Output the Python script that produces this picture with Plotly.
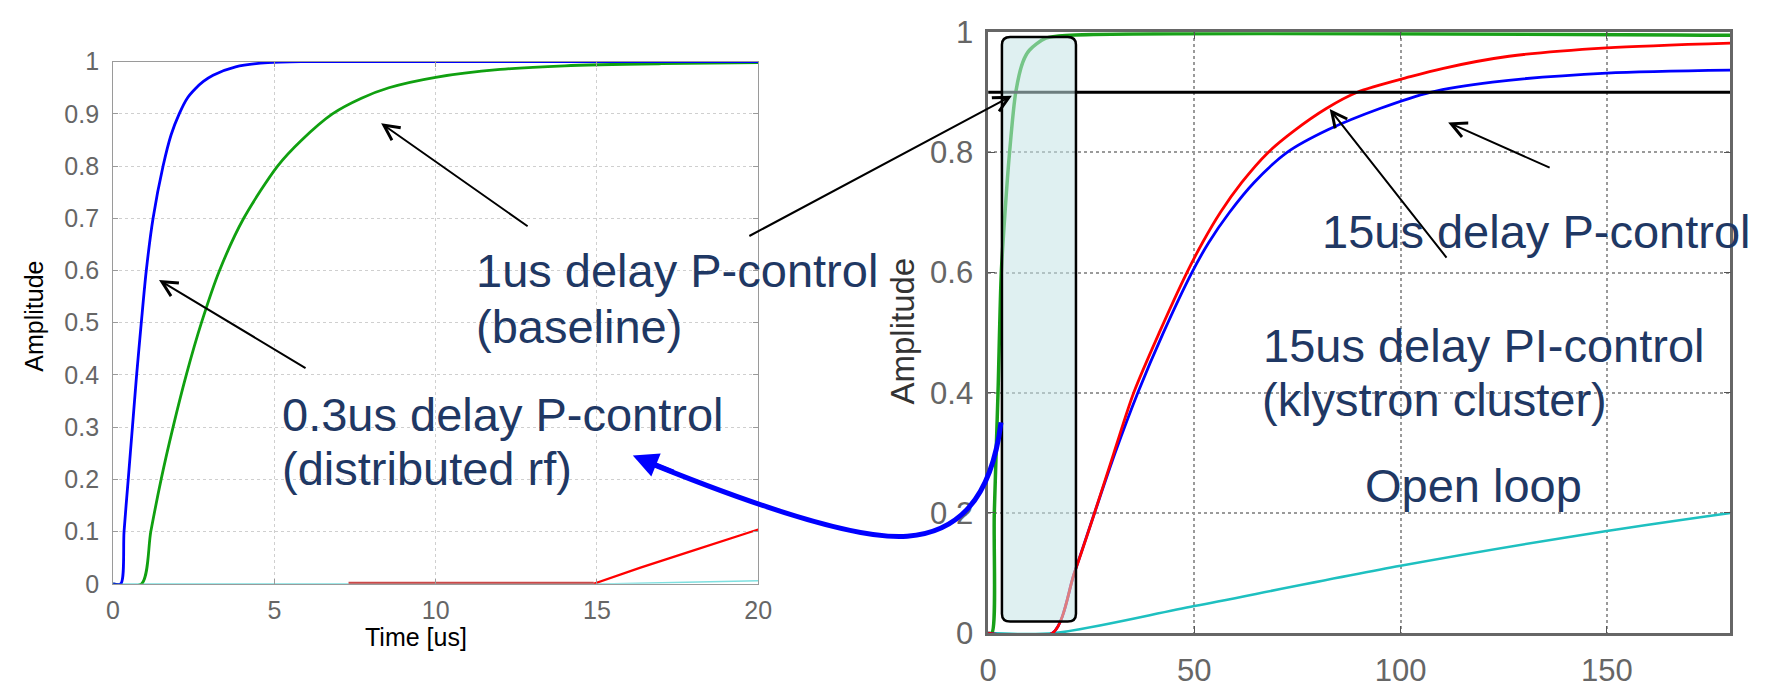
import plotly.graph_objects as go

FIG_W, FIG_H = 1778, 691

# ---------------- data: left panel (first 20 us) ----------------
left_blue_t = [0, 0.24, 0.34, 0.47, 0.6, 0.73, 0.875, 1.03, 1.24, 1.55, 1.8, 2.05, 2.3, 2.55, 2.8, 3.1, 3.8, 4.8, 6, 10, 15, 20]
left_blue_y = [0, 0, 0.1, 0.2, 0.3, 0.4, 0.5, 0.6, 0.7, 0.8, 0.86, 0.9, 0.93, 0.948, 0.962, 0.974, 0.99, 0.998, 1.0, 1.0, 1.0, 1.0]

left_green_t = [0, 0.885, 1.17, 1.49, 1.86, 2.27, 2.74, 3.3, 4.05, 5.1, 5.85, 6.8, 7.7, 8.55, 10, 12, 14, 17, 20]
left_green_y = [0, 0, 0.1, 0.2, 0.3, 0.4, 0.5, 0.6, 0.7, 0.8, 0.85, 0.9, 0.93, 0.95, 0.97, 0.985, 0.992, 0.996, 0.998]

left_red_t = [14.9, 16.35, 18, 20]
left_red_y = [0, 0.031, 0.064, 0.104]

left_red_hold_t = [7.3, 14.9]
left_red_hold_y = [0, 0]

left_cyan_t = [0, 15.5, 20]
left_cyan_y = [0, 0, 0.006]

left_xticks = [0, 5, 10, 15, 20]
left_xticktext = ["0", "5", "10", "15", "20"]
left_yticks = [0, 0.1, 0.2, 0.3, 0.4, 0.5, 0.6, 0.7, 0.8, 0.9, 1.0]
left_yticktext = ["0", "0.1", "0.2", "0.3", "0.4", "0.5", "0.6", "0.7", "0.8", "0.9", "1"]

# ---------------- data: right panel (0-180 us) ----------------
right_green_t = [0, 0.9, 1.5, 2.4, 3.2, 4.1, 5.2, 6.7, 8.4, 10, 14, 20, 180]
right_green_y = [0, 0, 0.2, 0.4, 0.6, 0.7, 0.8, 0.9, 0.95, 0.97, 0.99, 0.995, 0.995]

right_red_t = [0, 15.6, 20.9, 25.8, 30.5, 35.3, 41.5, 48.2, 52, 56.3, 61.5, 67.9, 74, 82, 89.5, 102.4, 110.4, 126.3, 150, 180]
right_red_y = [0, 0, 0.1, 0.2, 0.3, 0.4, 0.5, 0.6, 0.65, 0.7, 0.75, 0.8, 0.835, 0.873, 0.9, 0.926, 0.94, 0.96, 0.974, 0.982]

right_blue_t = [0, 15.6, 20.9, 25.8, 30.8, 36.3, 42.5, 49.4, 53.5, 58.5, 64.5, 72.5, 82.5, 95, 107.2, 122.3, 150, 180]
right_blue_y = [0, 0, 0.1, 0.2, 0.3, 0.4, 0.5, 0.6, 0.65, 0.7, 0.75, 0.8, 0.838, 0.873, 0.9, 0.917, 0.932, 0.937]

right_cyan_t = [0, 16.1, 50, 100, 150, 180]
right_cyan_y = [0, 0, 0.045, 0.112, 0.17, 0.2]

threshold_t = [0, 180]
threshold_y = [0.9, 0.9]

# highlighted window (rounded box) in right-panel data units
box_t = [3.35, 21.3]
box_y = [0.0194, 0.992]

right_xticks = [0, 50, 100, 150]
right_xticktext = ["0", "50", "100", "150"]
right_yticks = [0, 0.2, 0.4, 0.6, 0.8, 1.0]
right_yticktext = ["0", "0.2", "0.4", "0.6", "0.8", "1"]

# ---------------- figure ----------------
FONT = "Liberation Sans, Arial, sans-serif"
NAVY = "#1f3864"


def px(x):
    return x / FIG_W


def py(y):
    return 1 - y / FIG_H


fig = go.Figure()


def add_line(t, y, color, width, xa, ya, shape="spline"):
    fig.add_trace(go.Scatter(
        x=t, y=y, mode="lines",
        line=dict(color=color, width=width, shape=shape, smoothing=0.8),
        xaxis=xa, yaxis=ya, showlegend=False, hoverinfo="skip"))


# left panel traces
add_line(left_cyan_t, left_cyan_y, "#7fe0e0", 1.5, "x", "y", "linear")
add_line(left_green_t, left_green_y, "#10a010", 2.8, "x", "y")
add_line(left_blue_t, left_blue_y, "#0000ff", 2.8, "x", "y")
add_line(left_red_hold_t, left_red_hold_y, "#cc4848", 4, "x", "y", "linear")
add_line(left_red_t, left_red_y, "#ff0000", 2.2, "x", "y", "linear")

# right panel traces
add_line(right_cyan_t, right_cyan_y, "#1ec0c0", 2.5, "x2", "y2")
add_line(right_green_t, right_green_y, "#18a018", 3.5, "x2", "y2")
add_line(right_blue_t, right_blue_y, "#0000ff", 2.8, "x2", "y2")
add_line(right_red_t, right_red_y, "#ff0000", 2.8, "x2", "y2")
add_line(threshold_t, threshold_y, "#000000", 3, "x2", "y2", "linear")

axis_common = dict(showgrid=True, griddash="dot", zeroline=False, showline=True,
                   mirror="ticks", ticks="inside", fixedrange=True)

fig.update_layout(
    width=FIG_W, height=FIG_H,
    margin=dict(l=0, r=0, t=0, b=0),
    paper_bgcolor="white", plot_bgcolor="white",
    font=dict(family=FONT),
    xaxis=dict(domain=[0.0593, 0.4269], range=[0, 20], anchor="y",
               tickvals=left_xticks, ticktext=left_xticktext,
               gridcolor="#cfcfcf", gridwidth=1, linecolor="#9a9a9a", linewidth=1,
               ticklen=5, tickcolor="#9a9a9a", ticklabelstandoff=4,
               tickfont=dict(size=25, color="#666666", family=FONT), **axis_common),
    yaxis=dict(domain=[0.136, 0.932], range=[0, 1], anchor="x",
               tickvals=left_yticks, ticktext=left_yticktext,
               gridcolor="#cfcfcf", gridwidth=1, linecolor="#9a9a9a", linewidth=1,
               ticklen=5, tickcolor="#9a9a9a", ticklabelstandoff=8,
               tickfont=dict(size=25, color="#666666", family=FONT), **axis_common),
    xaxis2=dict(domain=[0.5579, 0.9809], range=[0, 180], anchor="y2",
                tickvals=right_xticks, ticktext=right_xticktext,
                gridcolor="#9a9a9a", gridwidth=1.5, linecolor="#666666", linewidth=2.5,
                ticklen=7, tickcolor="#555555", ticklabelstandoff=8,
                tickfont=dict(size=31, color="#666666", family=FONT), **axis_common),
    yaxis2=dict(domain=[0.0608, 0.9768], range=[0, 1], anchor="x2",
                tickvals=right_yticks, ticktext=right_yticktext,
                gridcolor="#9a9a9a", gridwidth=1.5, linecolor="#666666", linewidth=2.5,
                ticklen=7, tickcolor="#555555", ticklabelstandoff=6,
                tickfont=dict(size=31, color="#666666", family=FONT), **axis_common),
)

# rounded highlight box on the right panel
bx0, bx1 = box_t
by0, by1 = box_y
rx, ry = 2.0, 0.013
box_path = (f"M {bx0+rx},{by0} L {bx1-rx},{by0} Q {bx1},{by0} {bx1},{by0+ry} "
            f"L {bx1},{by1-ry} Q {bx1},{by1} {bx1-rx},{by1} "
            f"L {bx0+rx},{by1} Q {bx0},{by1} {bx0},{by1-ry} "
            f"L {bx0},{by0+ry} Q {bx0},{by0} {bx0+rx},{by0} Z")
fig.add_shape(type="path", path=box_path, xref="x2", yref="y2", layer="above",
              fillcolor="rgba(196,228,230,0.55)", line=dict(color="black", width=2.5))

# thick blue curved connector (pixel points converted to paper coordinates)
curve_pts = [(640, 466), (720, 500), (850, 552), (910, 547), (960, 543), (995, 510), (1005, 427)]
cp = [(px(a), py(b)) for a, b in curve_pts]
curve_path = (f"M {cp[0][0]},{cp[0][1]} C {cp[1][0]},{cp[1][1]} {cp[2][0]},{cp[2][1]} {cp[3][0]},{cp[3][1]} "
              f"C {cp[4][0]},{cp[4][1]} {cp[5][0]},{cp[5][1]} {cp[6][0]},{cp[6][1]}")
fig.add_shape(type="path", path=curve_path, xref="paper", yref="paper", layer="above",
              line=dict(color="#0000ff", width=5))
fig.add_annotation(x=px(632), y=py(462), xref="paper", yref="paper", text="",
                   showarrow=True, ax=42, ay=17, arrowcolor="#0000ff", arrowwidth=5,
                   arrowhead=2, arrowsize=1.0, standoff=0)

# black pointer arrows: (tail_x, tail_y, tip_x, tip_y) in pixels
arrows = [(525, 216, 377, 112), (300, 366, 152, 277), (752, 224, 1016, 83),
          (1456, 247, 1338, 97), (1561, 157, 1458, 111)]
for tx, ty, hx, hy in arrows:
    fig.add_annotation(x=px(hx), y=py(hy), xref="paper", yref="paper", text="",
                       showarrow=True, ax=tx - hx, ay=ty - hy, arrowcolor="black",
                       arrowwidth=2, arrowhead=5, arrowsize=1.5, standoff=0)

# callout texts: (text, left_x, baseline_y)
labels = [("1us delay P-control", 471, 283), ("(baseline)", 471, 342),
          ("0.3us delay P-control", 275, 435), ("(distributed rf)", 275, 492),
          ("15us delay P-control", 1328, 242),
          ("15us delay PI-control", 1268, 362), ("(klystron cluster)", 1267, 419),
          ("Open loop", 1372, 510)]
for txt, lx, base in labels:
    fig.add_annotation(x=px(lx), y=py(base - 16), xref="paper", yref="paper", text=txt,
                       showarrow=False, xanchor="left", yanchor="middle",
                       font=dict(size=47, color=NAVY, family=FONT))

# axis titles
fig.add_annotation(x=px(25), y=py(315), xref="paper", yref="paper", text="Amplitude",
                   textangle=-90, showarrow=False, xanchor="center", yanchor="middle",
                   font=dict(size=25, color="black", family=FONT))
fig.add_annotation(x=px(412), y=py(653), xref="paper", yref="paper", text="Time [us]",
                   showarrow=False, xanchor="center", yanchor="middle",
                   font=dict(size=25, color="black", family=FONT))
fig.add_annotation(x=px(905), y=py(331), xref="paper", yref="paper", text="Amplitude",
                   textangle=-90, showarrow=False, xanchor="center", yanchor="middle",
                   font=dict(size=33, color="#333333", family=FONT))

fig.write_html("out.html", config={"displayModeBar": False},
               post_script="document.body.style.margin='0';document.body.style.overflow='hidden';")
